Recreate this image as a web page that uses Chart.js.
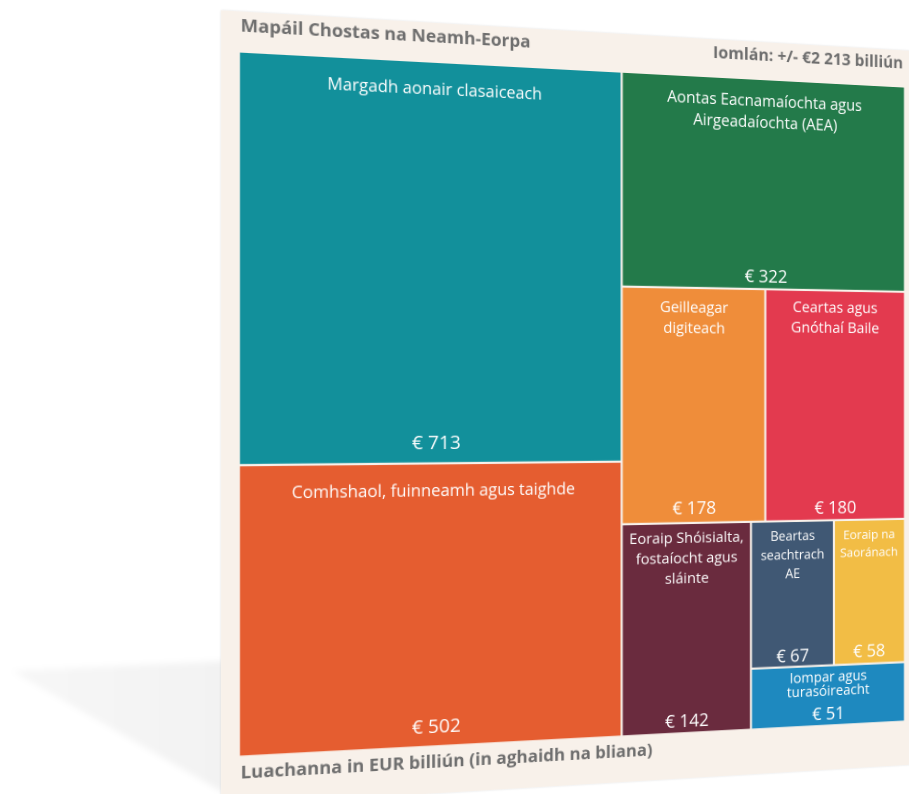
<!DOCTYPE html>
<html><head><meta charset="utf-8">
<script src="https://cdn.jsdelivr.net/npm/chart.js@4.4.1/dist/chart.umd.min.js"></script>
<style>
html,body{margin:0;padding:0;background:#fff;width:909px;height:794px;overflow:hidden;}
#shadowWrap{position:absolute;left:0;top:0;width:909px;height:794px;filter:blur(3px);}
#shadow{position:absolute;left:0;top:0;width:909px;height:794px;clip-path:polygon(12px 671px,226px 661px,226px 794px);background:linear-gradient(90deg,rgba(0,0,0,0.03),rgba(0,0,0,0.11));}
#scene{position:absolute;left:0;top:0;width:909px;height:794px;perspective:1000px;perspective-origin:589.4px 403.5px;}
#card{position:absolute;left:237px;top:31.5px;width:704px;height:752px;background:#f8f1ea;transform-origin:352.4px 372px;transform:rotateY(9deg);box-shadow:0 0 2px rgba(0,0,0,0.12);}
#card canvas{position:absolute;left:0;top:0;}
</style></head>
<body>
<div id="shadowWrap"><div id="shadow"></div></div>
<div id="scene"><div id="card"><canvas id="c" width="704" height="752"></canvas></div></div>
<script>
// ---- data ----
const categories = [
  'Margadh aonair clasaiceach',
  'Comhshaol, fuinneamh agus taighde',
  'Aontas Eacnamaíochta agus\nAirgeadaíochta (AEA)',
  'Geilleagar\ndigiteach',
  'Ceartas agus\nGnóthaí Baile',
  'Eoraip Shóisialta,\nfostaíocht agus\nsláinte',
  'Beartas\nseachtrach\nAE',
  'Eoraip na\nSaoránach',
  'Iompar agus\nturasóireacht'
];
const values = [713, 502, 322, 178, 180, 142, 67, 58, 51];
const valueLabels = values.map(v => '€ ' + v);
const titleText = 'Mapáil Chostas na Neamh-Eorpa';
const totalText = 'Iomlán: +/- €2 213 billiún';
const footerText = 'Luachanna in EUR billiún (in aghaidh na bliana)';

// ---- styles ----
const colors = ['#12909b', '#e55d30', '#237a4a', '#ef8d3a', '#e33a4f', '#6a2b3e', '#405874', '#f2bd45', '#1e89bf'];
const labelStyle = [
  {fs:16,   first:31, lh:21,   vfs:18.5, vpad:14},
  {fs:16,   first:32, lh:21,   vfs:18.5, vpad:12},
  {fs:16,   first:27, lh:22,   vfs:18,   vpad:7},
  {fs:15.3, first:25, lh:21,   vfs:18,   vpad:9},
  {fs:15.5, first:23, lh:21,   vfs:18,   vpad:7},
  {fs:15,   first:20, lh:20.5, vfs:18,   vpad:5},
  {fs:13.5, first:20, lh:19.5, vfs:18,   vpad:5},
  {fs:13,   first:20, lh:18.5, vfs:18,   vpad:7},
  {fs:14.5, first:17, lh:14.5, vfs:18,   vpad:5}
];
const FONT = '"Open Sans", "Noto Sans", sans-serif';
const PAD = {left:17.2, right:16.4, top:39, bottom:46.8};

// ---- squarified treemap layout in value units ----
function worst(row, side) {
  const s = row.reduce((a,b)=>a+b,0);
  const mx = Math.max(...row), mn = Math.min(...row);
  return Math.max(side*side*mx/(s*s), (s*s)/(side*side*mn));
}
function squarify(vals, x, y, w, h) {
  const out = [];
  let i = 0;
  while (i < vals.length) {
    const side = Math.min(w, h);
    let row = [vals[i]], j = i + 1;
    while (j < vals.length) {
      const nr = row.concat(vals[j]);
      if (worst(nr, side) <= worst(row, side)) { row = nr; j++; } else break;
    }
    const s = row.reduce((a,b)=>a+b,0);
    if (w >= h) {
      const cw = s / h; let cy = y;
      row.forEach(v => { const rh = v / cw; out.push({x:x, y:cy, w:cw, h:rh}); cy += rh; });
      x += cw; w -= cw;
    } else {
      const rh = s / w; let cx = x;
      row.forEach(v => { const rw = v / rh; out.push({x:cx, y:y, w:rw, h:rh}); cx += rw; });
      y += rh; h -= rh;
    }
    i = j;
  }
  return out;
}

const canvas = document.getElementById('c');
const areaW = canvas.width - PAD.left - PAD.right;
const areaH = canvas.height - PAD.top - PAD.bottom;
const total = values.reduce((a,b)=>a+b,0);
const unit = Math.sqrt(areaW * areaH / total);
const Wv = areaW / unit, Hv = areaH / unit;
const rects = squarify(values, 0, 0, Wv, Hv);

const treemapPlugin = {
  id: 'treemap',
  afterDatasetsDraw(chart) {
    const ctx = chart.ctx, xs = chart.scales.x, ys = chart.scales.y, a = chart.chartArea;
    ctx.save();
    rects.forEach((r, i) => {
      const x0 = xs.getPixelForValue(r.x), x1 = xs.getPixelForValue(r.x + r.w);
      const y0 = ys.getPixelForValue(r.y), y1 = ys.getPixelForValue(r.y + r.h);
      const g = 1.1;
      const l = x0 > a.left + 0.5 ? x0 + g : x0;
      const rr = x1 < a.right - 0.5 ? x1 - g : x1;
      const t = y0 > a.top + 0.5 ? y0 + g : y0;
      const b = y1 < a.bottom - 0.5 ? y1 - g : y1;
      ctx.fillStyle = colors[i];
      ctx.fillRect(l, t, rr - l, b - t);
      const st = labelStyle[i];
      const cx = (x0 + x1) / 2;
      ctx.fillStyle = '#ffffff';
      ctx.textAlign = 'center';
      ctx.textBaseline = 'alphabetic';
      ctx.font = st.fs + 'px ' + FONT;
      categories[i].split('\n').forEach((line, k) => {
        ctx.fillText(line, cx, y0 + st.first + k * st.lh);
      });
      ctx.font = st.vfs + 'px ' + FONT;
      ctx.fillText(valueLabels[i], cx, y1 - st.vpad);
    });
    // header / footer texts
    ctx.fillStyle = '#6e6e6e';
    ctx.font = 'bold 17px ' + FONT;
    ctx.textAlign = 'left';
    ctx.fillText(titleText, a.left + 0.5, a.top - 20);
    ctx.fillText(footerText, a.left + 0.5, a.bottom + 22);
    ctx.font = 'bold 17px ' + FONT;
    ctx.textAlign = 'right';
    ctx.fillText(totalText, a.right - 1, a.top - 20);
    ctx.restore();
  }
};

new Chart(canvas.getContext('2d'), {
  type: 'scatter',
  data: { datasets: [{ data: rects.map(r => ({x: r.x + r.w/2, y: r.y + r.h/2})), pointRadius: 0, pointHoverRadius: 0 }] },
  options: {
    responsive: false,
    animation: false,
    devicePixelRatio: 2,
    layout: { padding: PAD },
    scales: {
      x: { type: 'linear', min: 0, max: Wv, display: false },
      y: { type: 'linear', min: 0, max: Hv, reverse: true, display: false }
    },
    plugins: { legend: { display: false }, tooltip: { enabled: false } },
    events: []
  },
  plugins: [treemapPlugin]
});
</script>
</body></html>
